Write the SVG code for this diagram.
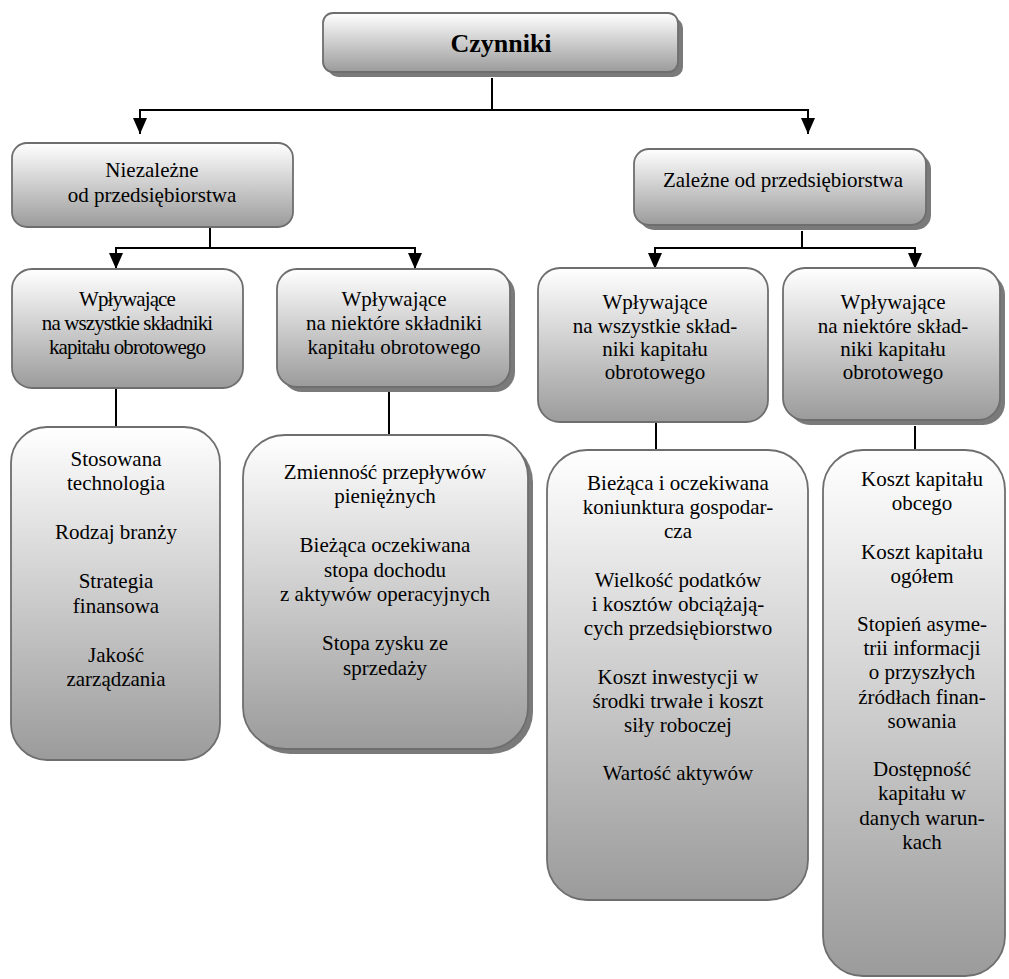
<svg xmlns="http://www.w3.org/2000/svg" width="1009" height="979" viewBox="0 0 1009 979">
<defs>
<linearGradient id="g" x1="0" y1="0" x2="0" y2="1">
<stop offset="0" stop-color="#ffffff"/>
<stop offset="1" stop-color="#9b9b9b"/>
</linearGradient>
<marker id="arr" viewBox="0 -7 16 14" refX="16" refY="0" markerWidth="16" markerHeight="14" markerUnits="userSpaceOnUse" orient="auto">
<path d="M0,-7 L16,0 L0,7 z" fill="#000"/>
</marker>
</defs>
<style>
.box{fill:url(#g);stroke:#6e6e6e;stroke-width:1.8}
.sh{fill:#7a7a7a}
text{font-family:'Liberation Serif','Times New Roman','DejaVu Serif',serif;font-size:21px;fill:#000;text-anchor:middle}
.c{letter-spacing:-0.9px}
.b{font-weight:bold;font-size:26px}
.ln{fill:none;stroke:#000;stroke-width:2}
</style>
<rect width="1009" height="979" fill="#fff"/>
<g id="connectors">
<path class="ln" d="M492,78 V110 M140,110 H808"/>
<path class="ln" d="M140,109 V134" marker-end="url(#arr)"/>
<path class="ln" d="M808,109 V134" marker-end="url(#arr)"/>
<path class="ln" d="M210,227 V248 M116,248 H415"/>
<path class="ln" d="M116,247 V269" marker-end="url(#arr)"/>
<path class="ln" d="M415,247 V269" marker-end="url(#arr)"/>
<path class="ln" d="M802,231 V248 M655,248 H915"/>
<path class="ln" d="M655,247 V269" marker-end="url(#arr)"/>
<path class="ln" d="M915,247 V269" marker-end="url(#arr)"/>
<path class="ln" d="M116,388 V427 M389,392 V435 M656,422 V450 M915,426 V450"/>
</g>
<g id="czynniki">
<rect class="sh" x="328" y="18" width="355" height="59" rx="10"/>
<rect class="box" x="323" y="13" width="355" height="59" rx="10"/>
<text class="b" x="501" y="52" font-family="Liberation Serif">Czynniki</text>
</g>
<g id="niezalezne">
<rect class="box" x="12" y="143" width="281" height="84" rx="15"/>
<text x="152" y="177" font-family="Liberation Serif">Niezależne</text>
<text x="152" y="202" font-family="Liberation Serif">od przedsiębiorstwa</text>
</g>
<g id="zalezne">
<rect class="sh" x="639" y="154" width="292" height="76" rx="15"/>
<rect class="box" x="634" y="149" width="292" height="76" rx="15"/>
<text x="783" y="187">Zależne od przedsiębiorstwa</text>
</g>
<g id="n-wszystkie">
<rect class="box" x="12" y="269" width="231" height="119" rx="20"/>
<text class="c" x="127" y="306">Wpływające</text>
<text class="c" x="127" y="330">na wszystkie składniki</text>
<text class="c" x="127" y="354">kapitału obrotowego</text>
</g>
<g id="n-niektore">
<rect class="sh" x="282" y="274" width="233" height="118" rx="20"/>
<rect class="box" x="277" y="269" width="233" height="118" rx="20"/>
<text x="394" y="306">Wpływające</text>
<text x="394" y="330">na niektóre składniki</text>
<text x="394" y="354">kapitału obrotowego</text>
</g>
<g id="z-wszystkie">
<rect class="box" x="538" y="268" width="230" height="154" rx="22"/>
<text x="655" y="309">Wpływające</text>
<text x="655" y="333">na wszystkie skład-</text>
<text x="655" y="356">niki kapitału</text>
<text x="655" y="379">obrotowego</text>
</g>
<g id="z-niektore">
<rect class="sh" x="788" y="273" width="217" height="152" rx="22"/>
<rect class="box" x="783" y="268" width="217" height="152" rx="22"/>
<text x="893" y="309">Wpływające</text>
<text x="893" y="333">na niektóre skład-</text>
<text x="893" y="356">niki kapitału</text>
<text x="893" y="379">obrotowego</text>
</g>
<g id="n-wszystkie-list">
<rect class="box" x="11" y="427" width="209" height="333" rx="36"/>
<text x="116" y="466">Stosowana</text>
<text x="116" y="490">technologia</text>
<text x="116" y="539">Rodzaj branży</text>
<text x="116" y="588">Strategia</text>
<text x="116" y="613">finansowa</text>
<text x="116" y="662">Jakość</text>
<text x="116" y="686">zarządzania</text>
</g>
<g id="n-niektore-list">
<rect class="sh" x="248" y="440" width="285" height="314" rx="42"/>
<rect class="box" x="243" y="435" width="285" height="314" rx="42"/>
<text x="385" y="479">Zmienność przepływów</text>
<text x="385" y="503">pieniężnych</text>
<text x="385" y="552">Bieżąca oczekiwana</text>
<text x="385" y="577">stopa dochodu</text>
<text x="385" y="601">z aktywów operacyjnych</text>
<text x="385" y="650">Stopa zysku ze</text>
<text x="385" y="675">sprzedaży</text>
</g>
<g id="z-wszystkie-list">
<rect class="box" x="547" y="450" width="261" height="450" rx="40"/>
<text x="678" y="490">Bieżąca i oczekiwana</text>
<text x="678" y="514">koniunktura gospodar-</text>
<text x="678" y="538">cza</text>
<text x="678" y="587">Wielkość podatków</text>
<text x="678" y="611">i kosztów obciążają-</text>
<text x="678" y="635">cych przedsiębiorstwo</text>
<text x="678" y="684">Koszt inwestycji w</text>
<text x="678" y="708">środki trwałe i koszt</text>
<text x="678" y="732">siły roboczej</text>
<text x="678" y="780">Wartość aktywów</text>
</g>
<g id="z-niektore-list">
<rect class="box" x="823" y="450" width="182" height="526" rx="40"/>
<text x="922" y="486">Koszt kapitału</text>
<text x="922" y="510">obcego</text>
<text x="922" y="559">Koszt kapitału</text>
<text x="922" y="583">ogółem</text>
<text x="922" y="631">Stopień asyme-</text>
<text x="922" y="655">trii informacji</text>
<text x="922" y="679">o przyszłych</text>
<text x="922" y="704">źródłach finan-</text>
<text x="922" y="728">sowania</text>
<text x="922" y="776">Dostępność</text>
<text x="922" y="800">kapitału w</text>
<text x="922" y="825">danych warun-</text>
<text x="922" y="849">kach</text>
</g>
</svg>
